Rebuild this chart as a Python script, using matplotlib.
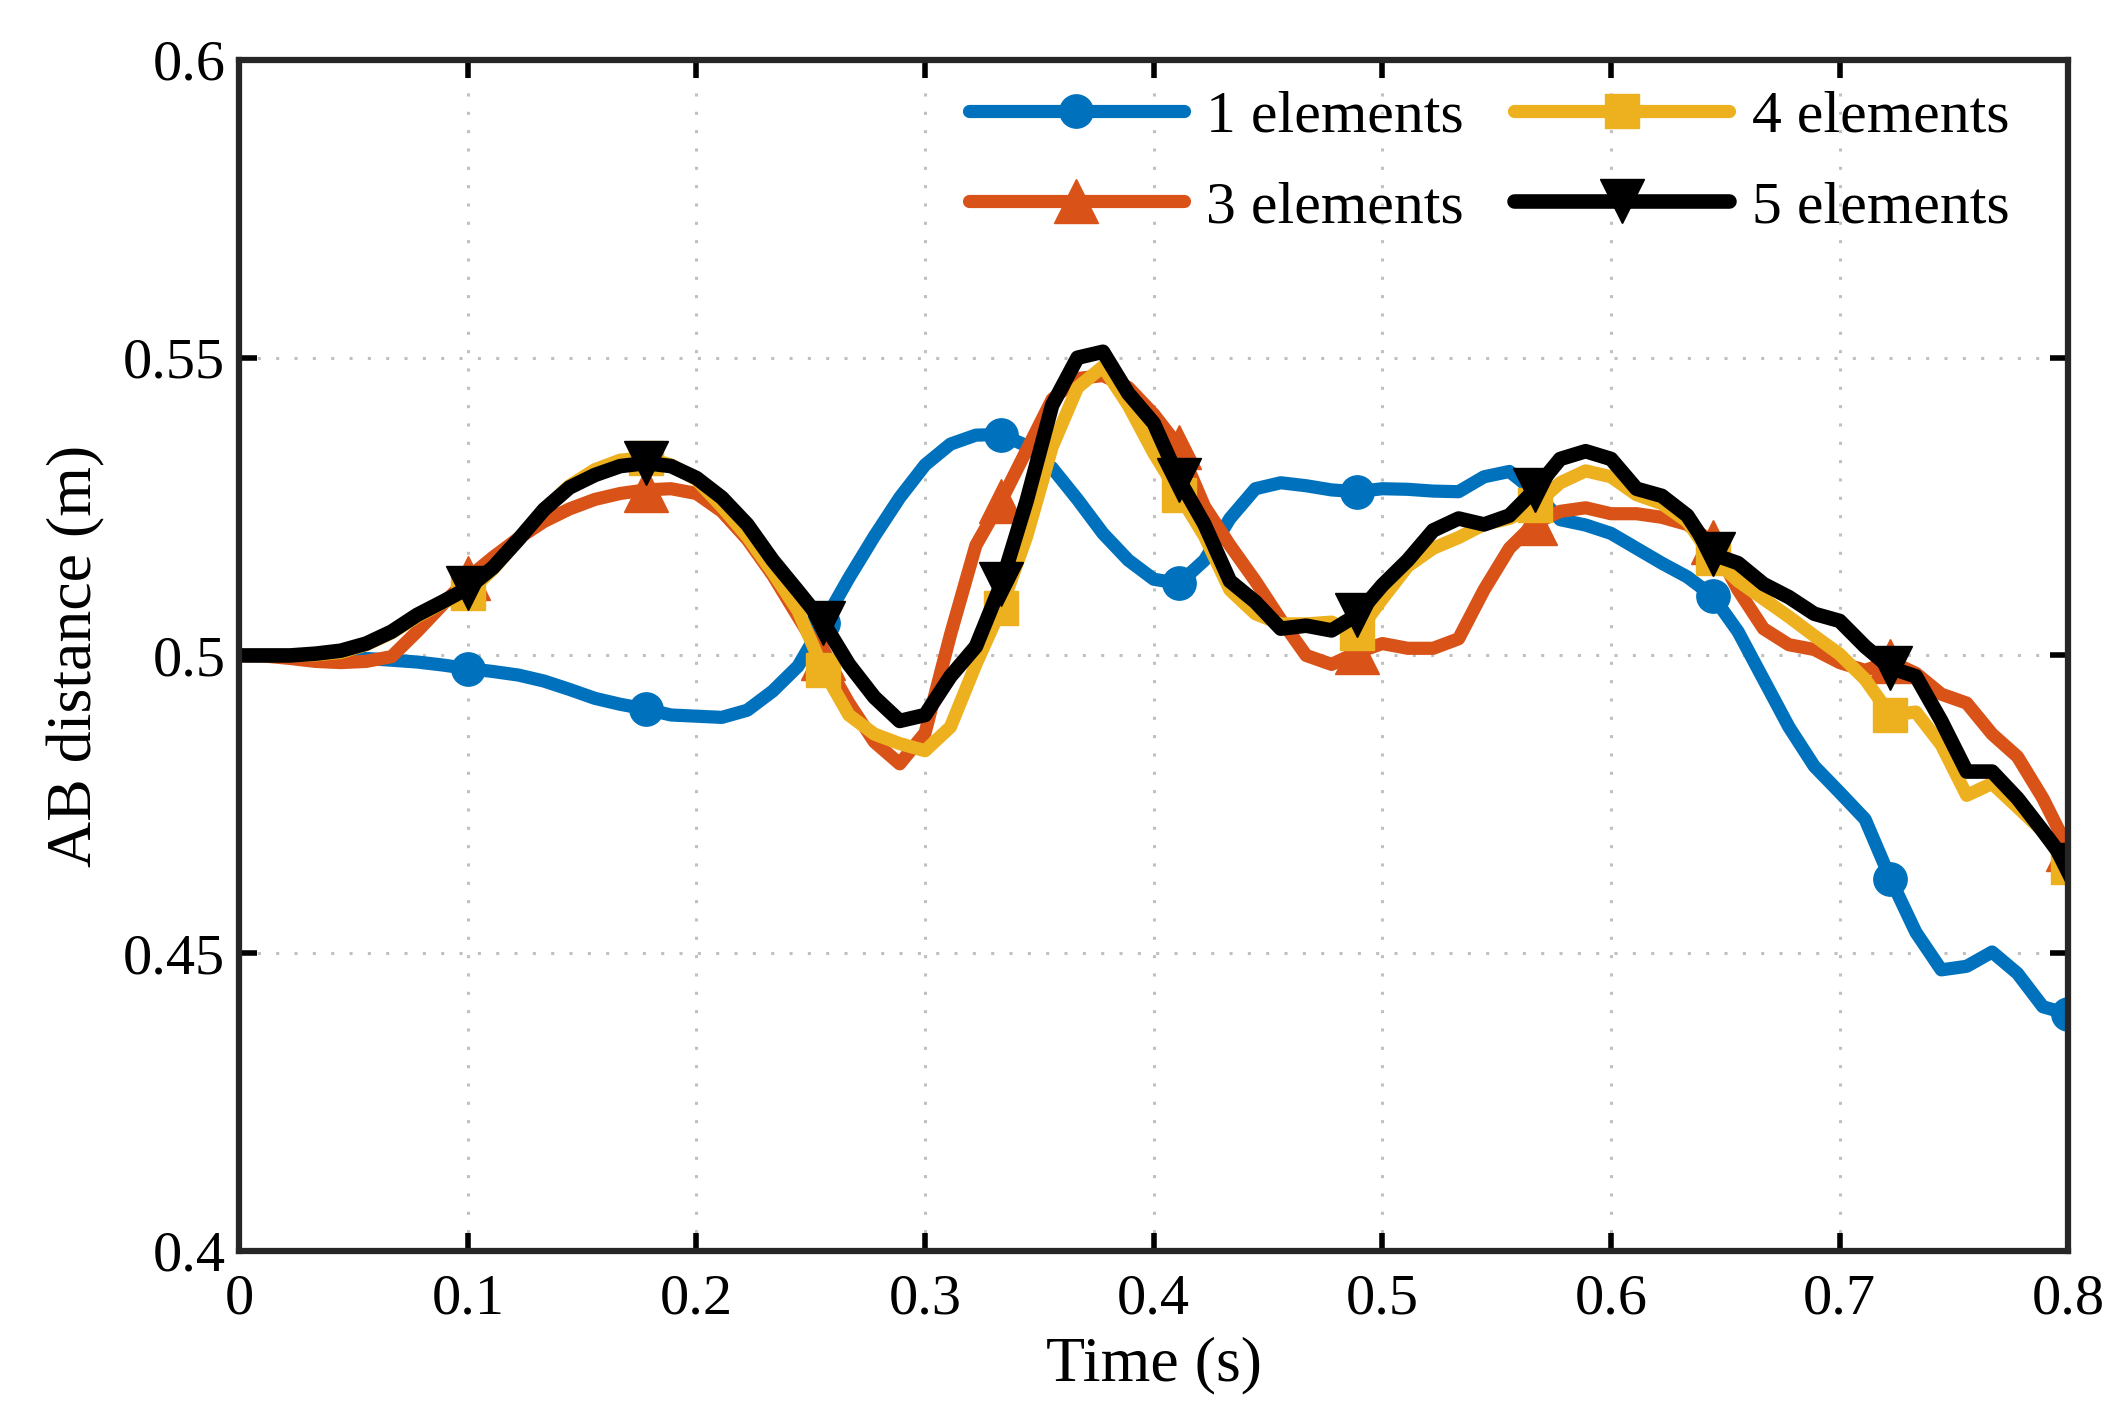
import numpy as np
import matplotlib
matplotlib.use("Agg")
import matplotlib.pyplot as plt

t = np.linspace(0, 0.8, 73)
marker_idx = [9, 16, 23, 30, 37, 44, 51, 58, 65, 72]

e1 = [0.5, 0.5, 0.5, 0.5, 0.4998, 0.4995, 0.4992, 0.4989, 0.4984, 0.4978,
      0.4973, 0.4967, 0.4957, 0.4943, 0.4928, 0.4918, 0.4910, 0.4900, 0.4898, 0.4896,
      0.4908, 0.4940, 0.4982, 0.5055, 0.5130, 0.5200, 0.5265, 0.5320, 0.5355, 0.5370,
      0.5371, 0.5352, 0.5315, 0.5262, 0.5205, 0.5160, 0.5128, 0.5121, 0.5160, 0.5230,
      0.5280, 0.5290, 0.5285, 0.5278, 0.5275, 0.5280, 0.5279, 0.5276, 0.5275, 0.5300,
      0.5309, 0.5275, 0.5228, 0.5219, 0.5205, 0.5180, 0.5155, 0.5132, 0.5100, 0.5040,
      0.4960, 0.4880, 0.4814, 0.4770, 0.4725, 0.4625, 0.4535, 0.4472, 0.4478, 0.4502,
      0.4466, 0.4410, 0.4398]

e3 = [0.5, 0.4999, 0.4995, 0.4990, 0.4988, 0.4990, 0.4998, 0.5040, 0.5085, 0.5130,
      0.5165, 0.5197, 0.5225, 0.5246, 0.5262, 0.5272, 0.5278, 0.5280, 0.5272, 0.5242,
      0.5195, 0.5135, 0.5065, 0.4995, 0.4920, 0.4855, 0.4818, 0.4870, 0.5035, 0.5185,
      0.5260, 0.5345, 0.5430, 0.5465, 0.5470, 0.5450, 0.5405, 0.5350, 0.5250, 0.5185,
      0.5125, 0.5060, 0.5000, 0.4985, 0.5005, 0.5020, 0.5012, 0.5012, 0.5028, 0.5110,
      0.5180, 0.5222, 0.5242, 0.5248, 0.5238, 0.5238, 0.5232, 0.5220, 0.5190, 0.5110,
      0.5045, 0.5018, 0.5010, 0.4988, 0.4975, 0.4990, 0.4970, 0.4935, 0.4920, 0.4868,
      0.4830, 0.4760, 0.4675]

e4 = [0.5, 0.5, 0.5, 0.5001, 0.5005, 0.5018, 0.5038, 0.5065, 0.5088, 0.5105,
      0.5145, 0.5195, 0.5245, 0.5285, 0.5312, 0.5328, 0.5332, 0.5320, 0.5295, 0.5250,
      0.5200, 0.5140, 0.5075, 0.4975, 0.4900, 0.4868, 0.4852, 0.4840, 0.4880, 0.4985,
      0.5080, 0.5200, 0.5350, 0.5450, 0.5485, 0.5420, 0.5340, 0.5270, 0.5200, 0.5110,
      0.5070, 0.5053, 0.5053, 0.5056, 0.5037, 0.5095, 0.5150, 0.5180, 0.5198, 0.5220,
      0.5230, 0.5252, 0.5290, 0.5310, 0.5300, 0.5270, 0.5255, 0.5225, 0.5164, 0.5125,
      0.5095, 0.5065, 0.5033, 0.5002, 0.4960, 0.4900, 0.4905, 0.4850, 0.4765, 0.4785,
      0.4745, 0.4705, 0.4645]

e5 = [0.5, 0.5, 0.5, 0.5003, 0.5008, 0.5020, 0.5040, 0.5068, 0.5090, 0.5113,
      0.5148, 0.5195, 0.5245, 0.5282, 0.5303, 0.5318, 0.5323, 0.5318, 0.5298, 0.5265,
      0.5220, 0.5160, 0.5108, 0.5055, 0.4985, 0.4930, 0.4890, 0.4900, 0.4965, 0.5015,
      0.5120, 0.5260, 0.5420, 0.5500, 0.5510, 0.5440, 0.5390, 0.5295, 0.5220, 0.5125,
      0.5090, 0.5045, 0.5050, 0.5042, 0.5068, 0.5118, 0.5160, 0.5210, 0.5230, 0.5220,
      0.5235, 0.5278, 0.5330, 0.5343, 0.5330, 0.5280, 0.5268, 0.5235, 0.5170, 0.5155,
      0.5120, 0.5098, 0.5070, 0.5058, 0.5015, 0.4979, 0.4965, 0.4890, 0.4805, 0.4805,
      0.4760, 0.4705, 0.4648]

labels = ["1 elements", "3 elements", "4 elements", "5 elements"]
colors = ["#0072BD", "#D95319", "#EDB120", "#000000"]
markers = ["o", "^", "s", "v"]
msizes = [24, 31, 25, 32]
lws = [9.5, 9.5, 9.5, 10.5]

xticks = [0, 0.1, 0.2, 0.3, 0.4, 0.5, 0.6, 0.7, 0.8]
xticklabels = ["0", "0.1", "0.2", "0.3", "0.4", "0.5", "0.6", "0.7", "0.8"]
yticks = [0.4, 0.45, 0.5, 0.55, 0.6]
yticklabels = ["0.4", "0.45", "0.5", "0.55", "0.6"]

plt.rcParams['font.family'] = ['Liberation Serif', 'DejaVu Serif']

fig = plt.figure(figsize=(21.22, 14.28), dpi=100)
ax = fig.add_axes([0.1127, 0.124, 0.862, 0.834])

for y, lab, c, m, ms, lw in zip([e1, e3, e4, e5], labels, colors, markers, msizes, lws):
    ax.plot(t, y, color=c, lw=lw, marker=m, markersize=ms, markevery=marker_idx,
            markeredgecolor=c, markerfacecolor=c, label=lab,
            solid_joinstyle='round', solid_capstyle='round')

ax.set_xlim(0, 0.8)
ax.set_ylim(0.4, 0.6)
ax.set_xticks(xticks)
ax.set_xticklabels(xticklabels)
ax.set_yticks(yticks)
ax.set_yticklabels(yticklabels)
ax.tick_params(direction='in', length=13, width=4, labelsize=42, top=True, right=True, pad=16)
ax.tick_params(axis='y', pad=10)
for s in ax.spines.values():
    s.set_linewidth(4.5)
    s.set_color('#262626')
ax.grid(True, linestyle=(0, (1, 5)), color='#c0c0c0', linewidth=2.2)
ax.set_xlabel("Time (s)", fontsize=46, labelpad=8)
ax.set_ylabel("AB distance (m)", fontsize=46, labelpad=13)

leg = ax.legend(loc='upper right', ncol=2, frameon=False, fontsize=43,
                handlelength=3.6, columnspacing=0.85, handletextpad=0.37,
                labelspacing=0.6, borderaxespad=0.1,
                bbox_to_anchor=(0.984, 1.0))

fig.savefig("out.png", dpi=100)
